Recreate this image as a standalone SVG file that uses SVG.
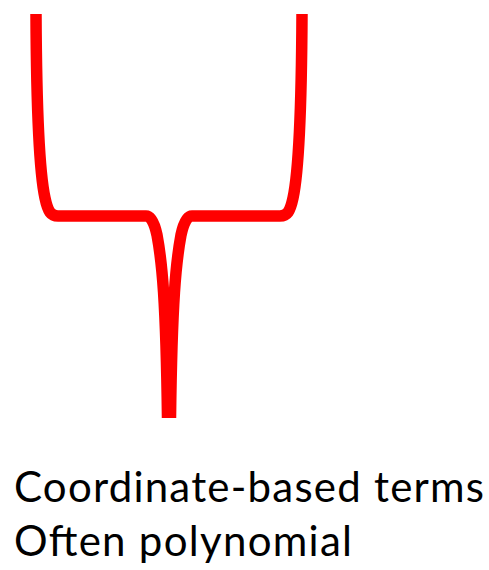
<svg xmlns="http://www.w3.org/2000/svg" width="489" height="570" viewBox="0 0 489 570">
<style>
.curve{fill:none;stroke:#ff0000;stroke-width:11.5;stroke-linejoin:round;stroke-linecap:butt}
.lbl{font-family:Lato,"Liberation Sans",sans-serif;font-size:42px;fill:#000}
</style>
<rect width="489" height="570" fill="#fff"/>
<defs>
<path id="half" d="M36,14 C36.5,110 40,175 45,198 C48,212 51,216 58,216 L146,216 Q153,216 157,235 C162,262 166,300 167.5,418"/>
</defs>
<g id="connectors">
<use href="#half" class="curve"/>
<use href="#half" class="curve" transform="translate(338,0) scale(-1,1)"/>
</g>
<g id="label">
<text class="lbl" x="14" y="502" textLength="470" lengthAdjust="spacing">Coordinate-based terms</text>
<text class="lbl" x="14" y="556" textLength="338" lengthAdjust="spacing">Often polynomial</text>
</g>
</svg>
